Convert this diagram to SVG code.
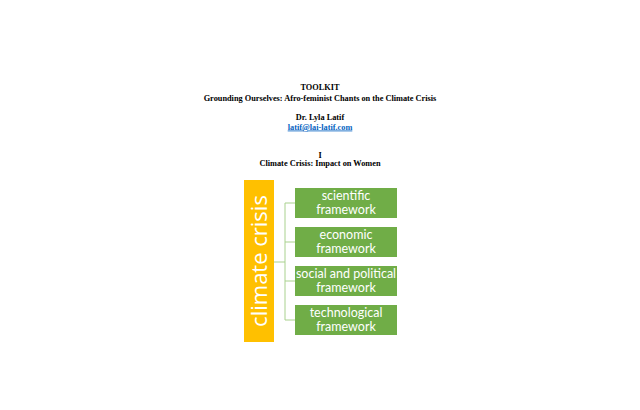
<svg xmlns="http://www.w3.org/2000/svg" width="640" height="410" viewBox="0 0 640 410">
<style>
.h{font-family:"Liberation Serif",serif;font-weight:bold;font-size:8.3px;fill:#000;text-anchor:middle}
.g{fill:#70AD47}
.t{font-family:Lato,"Open Sans",sans-serif;font-size:12.5px;fill:#fff;text-anchor:middle}
.c{fill:none;stroke:#A9D18E;stroke-width:1}
</style>
<rect width="640" height="410" fill="#fff"/>
<g id="header">
<text class="h" x="320" y="90">TOOLKIT</text>
<text class="h" x="320" y="101">Grounding Ourselves: Afro-feminist Chants on the Climate Crisis</text>
<text class="h" x="320" y="120">Dr. Lyla Latif</text>
<text class="h" x="320" y="129.5" style="fill:#0563C1;text-decoration:underline">latif@lai-latif.com</text>
<text class="h" x="320" y="157.5">I</text>
<text class="h" x="320" y="166">Climate Crisis: Impact on Women</text>
</g>
<g id="connectors">
<path class="c" d="M274,262 H285 M285,203 V320 M285,203 H295 M285,242 H295 M285,281 H295 M285,320 H295"/>
</g>
<g id="climate-crisis">
<rect x="244" y="180" width="30" height="162" fill="#FFC000"/>
<text transform="translate(267,261) rotate(-90)" style="font-family:'Open Sans','Liberation Sans',sans-serif;font-size:22px;fill:#fff;text-anchor:middle">climate crisis</text>
</g>
<g id="scientific">
<rect class="g" x="295" y="188" width="102" height="30"/>
<text class="t" x="346" y="200">scientific</text>
<text class="t" x="346" y="213.5">framework</text>
</g>
<g id="economic">
<rect class="g" x="295" y="227" width="102" height="30"/>
<text class="t" x="346" y="239">economic</text>
<text class="t" x="346" y="252.5">framework</text>
</g>
<g id="social">
<rect class="g" x="295" y="266" width="102" height="30"/>
<text class="t" x="346" y="278">social and political</text>
<text class="t" x="346" y="291.5">framework</text>
</g>
<g id="technological">
<rect class="g" x="295" y="305" width="102" height="30"/>
<text class="t" x="346" y="317">technological</text>
<text class="t" x="346" y="330.5">framework</text>
</g>
</svg>
